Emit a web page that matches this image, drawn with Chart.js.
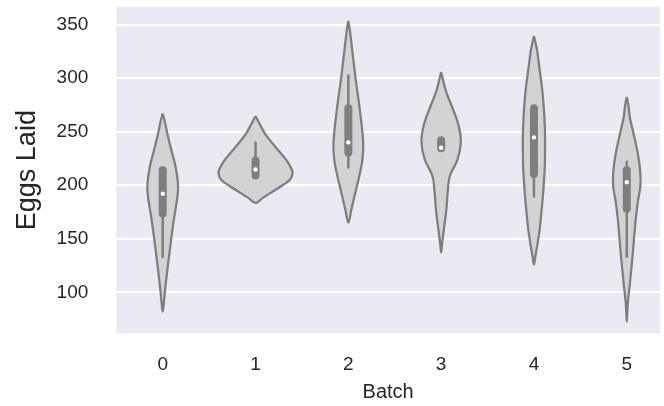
<!DOCTYPE html>
<html>
<head>
<meta charset="utf-8">
<script src="https://cdn.jsdelivr.net/npm/chart.js@4/dist/chart.umd.min.js"></script>
<style>
  html, body { margin: 0; padding: 0; background: #ffffff; }
  #wrap { width: 664px; height: 406px; }
</style>
</head>
<body>
<div id="wrap"><canvas id="violins" width="664" height="406"></canvas></div>
<script>
const batches = [0, 1, 2, 3, 4, 5];
const yTicks = [100, 150, 200, 250, 300, 350];

// violin outlines: eggs value -> half width (in batch units)
const eggs0 = [267, 258, 249, 233, 218, 202, 192, 180, 165, 149, 133.5, 118, 102, 90, 82];
const width0 = [0, 0.027, 0.048, 0.093, 0.137, 0.164, 0.162, 0.142, 0.115, 0.090, 0.068, 0.046, 0.025, 0.012, 0];
const eggs1 = [264.6, 255.2, 247.5, 239.7, 231.8, 224, 216.3, 211.6, 205.3, 199.1, 192.9, 188.2, 183.5];
const width1 = [0, 0.057, 0.107, 0.177, 0.254, 0.329, 0.382, 0.399, 0.373, 0.275, 0.164, 0.078, 0];
const eggs2 = [353.6, 345, 333.6, 302, 271, 240, 224, 208, 193, 177, 165];
const width2 = [0, 0.016, 0.032, 0.075, 0.123, 0.160, 0.152, 0.116, 0.075, 0.032, 0];
const eggs3 = [305.8, 296, 286.5, 270.9, 255.2, 240, 224, 208.4, 193, 177, 161.6, 146, 137];
const width3 = [0, 0.027, 0.057, 0.128, 0.190, 0.212, 0.176, 0.093, 0.070, 0.056, 0.034, 0.011, 0];
const eggs4 = [339.5, 327, 314.6, 283.3, 252, 221, 205.3, 189.7, 174.4, 158.5, 142.9, 134, 126];
const width4 = [0, 0.032, 0.051, 0.096, 0.118, 0.118, 0.109, 0.096, 0.080, 0.061, 0.034, 0.016, 0];
const eggs5 = [282.4, 274, 263.1, 247.5, 231.8, 216.3, 200.7, 183.8, 168, 152.2, 137, 121, 105.4, 90, 72.7];
const width5 = [0, 0.019, 0.034, 0.075, 0.114, 0.141, 0.148, 0.118, 0.096, 0.080, 0.066, 0.048, 0.030, 0.011, 0];

// inner box: quartiles, whiskers, medians
const q1 = [173.5, 209, 230.7, 234.5, 210.6, 178];
const q3 = [214, 223, 272, 242, 272, 214];
const whiskLow = [133, 209, 216.5, 234.5, 189.5, 133.5];
const whiskHigh = [214, 240, 302.5, 242, 272, 222];
const medians = [192, 214.7, 240, 235, 244.7, 202.8];

const allEggs = [eggs0, eggs1, eggs2, eggs3, eggs4, eggs5];
const allWidths = [width0, width1, width2, width3, width4, width5];

const fillGray = "#d3d3d3";
const lineGray = "#7e7e7e";
const textColor = "#262626";
const fontFamily = "'Liberation Sans', Arial, sans-serif";

function outline(center, eggs, widths) {
    const pts = [];
    for (let k = 0; k < eggs.length; k++) {
        pts.push({ x: center + widths[k], y: eggs[k] });
    }
    for (let k = eggs.length - 2; k >= 0; k--) {
        pts.push({ x: center - widths[k], y: eggs[k] });
    }
    return pts;
}

function segments(lows, highs) {
    const pts = [];
    batches.forEach((b, i) => {
        pts.push({ x: b, y: lows[i] });
        pts.push({ x: b, y: highs[i] });
        pts.push({ x: b + 0.5, y: null });
    });
    return pts;
}

const datasets = [];
batches.forEach((b, i) => {
    datasets.push({
        data: outline(b, allEggs[i], allWidths[i]),
        showLine: true,
        fill: 'shape',
        backgroundColor: fillGray,
        borderColor: lineGray,
        borderWidth: 2.25,
        borderJoinStyle: 'round',
        tension: 0.35,
        pointRadius: 0,
        order: 3
    });
});
datasets.push({
    data: segments(whiskLow, whiskHigh),
    showLine: true,
    spanGaps: false,
    borderColor: lineGray,
    borderWidth: 2.5,
    borderCapStyle: 'round',
    pointRadius: 0,
    order: 2
});
datasets.push({
    data: segments(q1, q3),
    showLine: true,
    spanGaps: false,
    borderColor: lineGray,
    borderWidth: 8,
    borderCapStyle: 'round',
    pointRadius: 0,
    order: 1
});
datasets.push({
    data: batches.map((b, i) => ({ x: b, y: medians[i] })),
    showLine: false,
    pointRadius: 2.2,
    pointBorderWidth: 0,
    pointBackgroundColor: "#ffffff",
    order: 0
});

const panelBackground = {
    id: 'panelBackground',
    beforeDraw(chart) {
        const { ctx, chartArea } = chart;
        ctx.save();
        ctx.fillStyle = "#eaeaf2";
        ctx.fillRect(chartArea.left, chartArea.top, chartArea.right - chartArea.left, chartArea.bottom - chartArea.top);
        ctx.restore();
    }
};

new Chart(document.getElementById("violins"), {
    type: "scatter",
    data: { datasets: datasets },
    plugins: [panelBackground],
    options: {
        responsive: false,
        animation: false,
        devicePixelRatio: 1,
        layout: { padding: { top: 7, right: 0, bottom: 0, left: 0 } },
        plugins: {
            legend: { display: false },
            tooltip: { enabled: false }
        },
        scales: {
            x: {
                type: 'linear',
                min: -0.5,
                max: 5.358,
                afterBuildTicks: (scale) => { scale.ticks = batches.map(v => ({ value: v })); },
                afterFit: (scale) => {
                    scale.height = 72.7;
                    scale.paddingLeft = 0;
                    scale.paddingRight = 0;
                },
                grid: { display: false, drawTicks: false },
                border: { display: false },
                ticks: {
                    padding: 20,
                    color: textColor,
                    font: { family: fontFamily, size: 19 }
                },
                title: {
                    display: true,
                    text: "Batch",
                    color: textColor,
                    font: { family: fontFamily, size: 20 },
                    padding: { top: 0, bottom: 2 }
                }
            },
            y: {
                min: 61.7,
                max: 366.5,
                afterBuildTicks: (scale) => { scale.ticks = yTicks.map(v => ({ value: v })); },
                afterFit: (scale) => {
                    scale.width = 116.3;
                    scale.paddingTop = 0;
                    scale.paddingBottom = 0;
                },
                grid: { color: "#ffffff", lineWidth: 2, drawTicks: false },
                border: { display: false },
                ticks: {
                    padding: 28,
                    color: textColor,
                    font: { family: fontFamily, size: 19 }
                },
                title: {
                    display: true,
                    text: "Eggs Laid",
                    color: textColor,
                    font: { family: fontFamily, size: 27 },
                    padding: { top: 11, bottom: 0 }
                }
            }
        }
    }
});
</script>
</body>
</html>
